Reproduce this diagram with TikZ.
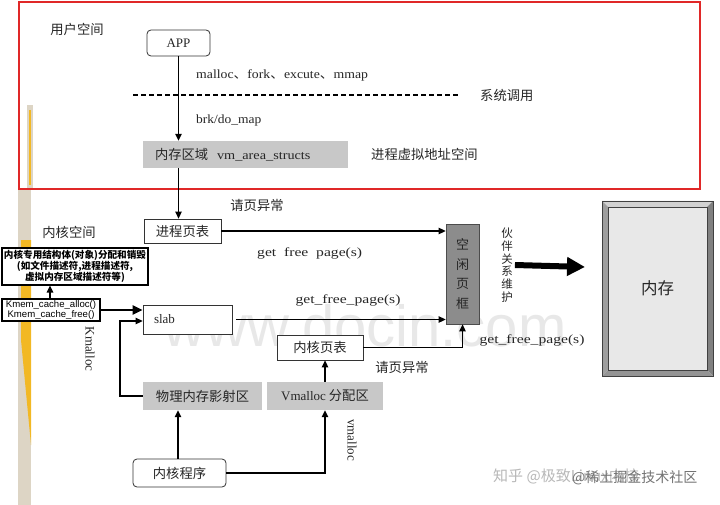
\documentclass[tikz,border=0pt]{standalone}
\usepackage{fontspec}
\setmainfont{Liberation Serif}
\setsansfont{Liberation Sans}
\newfontfamily\zhfont{Noto Sans CJK SC}
\usetikzlibrary{arrows.meta}
\definecolor{boxgray}{HTML}{C8C8C8}
\definecolor{darkgray2}{HTML}{8C8C8C}
\definecolor{redframe}{HTML}{E02828}
\definecolor{beige}{HTML}{DDD5C5}
\definecolor{stripyellow}{HTML}{F2B824}
\newcommand{\wx}[2]{\scalebox{#1}[1]{#2}}
\begin{document}
\begin{tikzpicture}[x=1pt,y=-1pt,
  arr/.style={-{Triangle[length=7pt,width=6.5pt]}, line width=1.3pt, black},
  thickarr/.style={-{Triangle[length=10pt,width=9pt]}, line width=2.2pt, black},
  bigarr/.style={-{Triangle[length=18pt,width=18pt]}, line width=6pt, black},
  wbox/.style={draw=black!80, line width=0.8pt, fill=white, inner sep=0pt, font=\zhfont\fontsize{13.3}{15}\selectfont, text=black!85},
  gbox/.style={fill=boxgray, inner sep=0pt, font=\zhfont\fontsize{13.3}{15}\selectfont, text=black!85},
  lbl/.style={font=\zhfont\fontsize{13.3}{15}\selectfont, text=black!85, inner sep=0pt},
  lat/.style={font=\fontsize{12.5}{14}\selectfont, text=black!85, inner sep=0pt}
]
\useasboundingbox (0,0) rectangle (720,505);
\fill[white] (0,0) rectangle (720,505);

% left edge strip (screenshot artefact)
\fill[beige] (18,190) rectangle (31,505);
\fill[stripyellow] (21,240) -- (31,240) -- (31,445) -- (21,340) -- cycle;
\fill[beige] (27,105) rectangle (33,190);
\fill[stripyellow] (29,110) rectangle (31,185);

% watermark
\node[font=\sffamily\fontsize{58}{60}\selectfont, text=black!9, inner sep=0pt] (wm) at (365,326) {www.docin.com};

% user space frame
\draw[redframe, line width=1.6pt] (19,2) rectangle (700,189);

\node[lbl] (user) at (77,29) {用户空间};
\node[wbox, rounded corners=4pt, minimum width=63pt, minimum height=26pt, font=\fontsize{13}{15}\selectfont] (app) at (178.5,43) {APP};
\node[lat, anchor=west] (calls) at (196,75) {\wx{1.1}{malloc{\zhfont 、}fork{\zhfont 、}excute{\zhfont 、}mmap}};
\coordinate (dashA) at (133,95);
\coordinate (dashB) at (460,95);
\draw[line width=1.2pt, dash pattern=on 5pt off 3pt] (dashA) -- (dashB);
\node[lbl, anchor=west] (sys) at (480,95) {系统调用};
\node[lat, anchor=west] (brk) at (196,120) {\wx{1.08}{brk/do\_map}};
\node[gbox, minimum width=205pt, minimum height=27pt, text width=181pt, align=left] (vma) at (245.5,154.5) {内存区域\ \ {\rmfamily\fontsize{12.5}{14}\selectfont\wx{1.14}{vm\_area\_structs}}};
\node[lbl, anchor=west] (vas) at (371,154) {进程虚拟地址空间};

% kernel space
\node[lbl] (fault1) at (257,205) {请页异常};
\node[lbl] (kspace) at (69,232) {内核空间};
\node[wbox, minimum width=77pt, minimum height=24pt] (pt) at (182.5,231) {进程页表};
\node[lat, anchor=west] (gfp1) at (257,253) {\wx{1.25}{get\ \ free\ \ page(s)}};
\node[draw=black!70, line width=0.8pt, fill=darkgray2, minimum width=33pt, minimum height=100pt, inner sep=0pt, align=center, font=\zhfont\fontsize{13}{19.5}\selectfont, text=black!85] (free) at (462.5,274) {空\\闲\\页\\框};
\node[font=\zhfont\fontsize{11.5}{12.7}\selectfont, align=center, inner sep=0pt, text=black!85] (buddy) at (507,265) {伙\\伴\\关\\系\\维\\护};
\coordinate (bigend) at (585,267);

% memory box with bevel
\fill[black!18] (602,201) -- (713,201) -- (707,207) -- (608,207) -- cycle;
\fill[black!38] (602,201) -- (608,207) -- (608,370) -- (602,376) -- cycle;
\fill[black!50] (713,201) -- (707,207) -- (707,370) -- (713,376) -- cycle;
\fill[black!42] (602,376) -- (608,370) -- (707,370) -- (713,376) -- cycle;
\draw[black!75, line width=0.8pt] (602,201) rectangle (713,376);
\node[draw=black!75, line width=0.6pt, fill=black!9, minimum width=99pt, minimum height=163pt, inner sep=0pt, font=\zhfont\fontsize{16.5}{18}\selectfont, text=black!85] (mem) at (657.5,288.5) {内存};

% slab allocator side
\node[draw=black, line width=1.2pt, fill=white, minimum width=146pt, minimum height=37pt, inner sep=0pt, align=center, font=\zhfont\bfseries\fontsize{9.6}{10.8}\selectfont] (obj) at (75,266.5) {内核专用结构体(对象)分配和销毁\\(如文件描述符,进程描述符,\\虚拟内存区域描述符等)};
\node[draw=black, line width=1.2pt, fill=white, minimum width=98pt, minimum height=22pt, inner sep=0pt, align=center, font=\sffamily\fontsize{9.6}{10.8}\selectfont] (kmem) at (51,310) {Kmem\_cache\_alloc()\\Kmem\_cache\_free()};
\node[wbox, minimum width=89pt, minimum height=29pt, text width=67pt, align=left, font=\fontsize{13}{15}\selectfont] (slab) at (187.5,319.5) {slab};
\node[lat] (gfp2) at (348,300) {\wx{1.25}{get\_free\_page(s)}};
\node[wbox, minimum width=86pt, minimum height=25pt] (kpt) at (320,347.5) {内核页表};
\node[lbl] (fault2) at (402,367) {请页异常};
\node[lat] (gfp3) at (532,340) {\wx{1.25}{get\_free\_page(s)}};
\node[lat, rotate=-90, font=\fontsize{13}{15}\selectfont] (kmalloc) at (90,349) {Kmalloc};
\node[gbox, minimum width=119pt, minimum height=28pt] (phys) at (202.5,396) {物理内存影射区};
\node[gbox, minimum width=116pt, minimum height=28pt] (vmal) at (325,396) {{\rmfamily\fontsize{13}{15}\selectfont Vmalloc} 分配区};
\node[lat, rotate=-90, font=\fontsize{13}{15}\selectfont] (vmalloc) at (352,440) {vmalloc};
\node[wbox, rounded corners=4pt, minimum width=93pt, minimum height=28pt] (kprog) at (179.5,473) {内核程序};
\coordinate (kmc) at (120,321);

% connectors
\draw[arr] (app.south) -- (app.south |- vma.north);
\draw[arr] (vma.south -| app.south) -- (pt.north -| app.south);
\draw[arr] (pt.east) -- (pt.east -| free.west);
\draw[arr] ([xshift=4pt]slab.east) -- (slab.east -| free.west);
\draw[arr] (kpt.east) -| (free.south);
\draw[bigarr] (buddy.east) ++(2,0) -- (bigend);
\draw[arr] (kmem.north -| 50,0) -- (obj.south -| 50,0);
\draw[thickarr] (kmem.east) -- (kmem.east -| slab.west);
\draw[arr] (phys.west) -| (kmc) -- (kmc -| slab.west);
\draw[arr] (vmal.north) -- (vmal.north |- kpt.south);
\draw[arr] (kprog.north -| 178,0) -- (phys.south -| 178,0);
\draw[arr] (kprog.east) -| (vmal.south);

% bottom-right watermarks
\node[anchor=west, font=\zhfont\fontsize{15}{17}\selectfont, text=black!28, inner sep=0pt] (zhihu) at (493,476) {知乎 @极致Linux内核};
\node[anchor=west, font=\zhfont\fontsize{14}{16}\selectfont, text=black!55, inner sep=0pt] (juejin) at (572,478) {@稀土掘金技术社区};
\end{tikzpicture}
\end{document}
